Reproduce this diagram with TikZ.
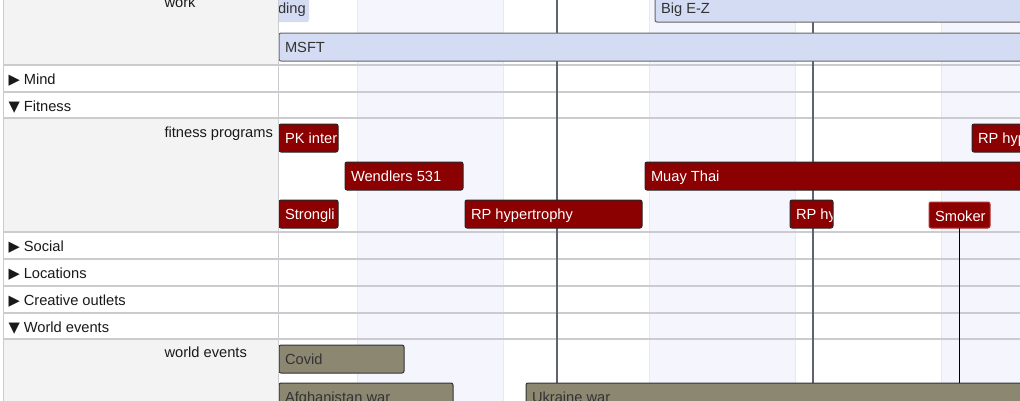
\documentclass[tikz,border=0pt]{standalone}
\usepackage{fontspec}
\setmainfont{Liberation Sans}
\newfontfamily\symfont{DejaVu Sans}
\definecolor{workblue}{RGB}{212,220,244}
\definecolor{fitred}{RGB}{139,0,0}
\definecolor{worldtan}{RGB}{140,135,112}
\definecolor{sidegray}{RGB}{243,243,243}
\definecolor{stripe}{RGB}{245,246,253}
\definecolor{stripeline}{RGB}{232,233,240}
\definecolor{rowline}{RGB}{204,204,208}
\definecolor{marker}{RGB}{95,99,110}
\definecolor{bartext}{RGB}{51,51,51}
\definecolor{smokeedge}{RGB}{180,50,50}

\begin{document}
\begin{tikzpicture}[x=1pt,y=-1pt,
    every node/.style={font=\fontsize{14.67}{17}\selectfont, text=black!90},
    bar/.style n args={2}{anchor=north west, inner sep=0pt, outer sep=0pt, rounded corners=2pt,
        minimum height=28pt, line width=1pt,
        path picture={\node[anchor=base west, minimum width=0pt, minimum height=0pt, draw=none, fill=none,
            text=#2] at ([xshift=6pt,yshift=-19pt]path picture bounding box.north west) {#1};}},
    workbar/.style={bar={#1}{bartext}, fill=workblue, draw=black!60},
    fitbar/.style={bar={#1}{white}, fill=fitred, draw=black!85},
    worldbar/.style={bar={#1}{bartext}, fill=worldtan, draw=black!80},
    rowlabel/.style={anchor=base west}]
    \useasboundingbox (0,0) rectangle (1020,400);
    \clip (0,0) rectangle (1020,400);
    \fill[white] (0,0) rectangle (1020,400);
    \fill[sidegray] (4,-10) rectangle (278,65);
    \fill[sidegray] (4,118) rectangle (278,232);
    \fill[sidegray] (4,339) rectangle (278,410);
    \foreach \xa in {357,649,941}
        \filldraw[fill=stripe, draw=stripeline, line width=1pt] (\xa,-10) rectangle (\xa+146,410);
    \foreach \ya in {65,92,118,232,259,286,313,339}
        \draw[rowline, line width=1.2pt] (3,\ya) -- (1020,\ya);
    \draw[rowline, line width=1.2pt] (3.5,-10) -- (3.5,410);
    \draw[rowline, line width=1.2pt] (278.5,-10) -- (278.5,410);
    \draw[marker, line width=1.5pt] (557,-10) -- (557,400);
    \draw[marker, line width=1.5pt] (813,-10) -- (813,400);

    \begin{scope}
    \clip (279,-10) rectangle (1030,410);
    \node[workbar={ding}, draw=none, minimum width=37pt] (ding) at (272,-6) {};
    \node[workbar={Big E-Z}, minimum width=400pt] (bigez) at (655,-6) {};
    \node[workbar={MSFT}, minimum width=800pt] (msft) at (279,33) {};
    \node[fitbar={PK inter}, minimum width=59pt] (pkint) at (279,124) {};
    \node[fitbar={Wendlers 531}, minimum width=118pt] (wendlers) at (345,162) {};
    \node[fitbar={Strongli}, minimum width=59pt] (stronglifts) at (279,200) {};
    \node[fitbar={RP hypertrophy}, minimum width=177pt] (rpone) at (465,200) {};
    \node[fitbar={Muay Thai}, minimum width=400pt] (muaythai) at (645,162) {};
    \node[fitbar={RP hy}, minimum width=43pt] (rptwo) at (790,200) {};
    \node[fitbar={Smoker}, draw=smokeedge, minimum width=61pt, minimum height=26pt] (smoker) at (929,202) {};
    \node[fitbar={RP hyp}, minimum width=100pt] (rpthree) at (972,124) {};
    \node[worldbar={Covid}, minimum width=125pt] (covid) at (279,345) {};
    \node[worldbar={Afghanistan war}, minimum width=174pt] (afghan) at (279,383) {};
    \node[worldbar={Ukraine war}, minimum width=500pt] (ukraine) at (526,383) {};
    \end{scope}
    \draw[black, line width=1pt] (smoker.south) -- (smoker.south |- ukraine.north);

    \node[rowlabel] (work) at (161,7) {work};
    \node[rowlabel] (mind) at (5,84) {{\symfont ▶}\hspace{4pt}Mind};
    \node[rowlabel] (fitness) at (5,111) {{\symfont ▼}\hspace{4pt}Fitness};
    \node[rowlabel] (fitprog) at (161,137) {fitness programs};
    \node[rowlabel] (social) at (5,251) {{\symfont ▶}\hspace{4pt}Social};
    \node[rowlabel] (locations) at (5,278) {{\symfont ▶}\hspace{4pt}Locations};
    \node[rowlabel] (creative) at (5,305) {{\symfont ▶}\hspace{4pt}Creative outlets};
    \node[rowlabel] (world) at (5,332) {{\symfont ▼}\hspace{4pt}World events};
    \node[rowlabel] (worldev) at (161,357) {world events};
\end{tikzpicture}
\end{document}
